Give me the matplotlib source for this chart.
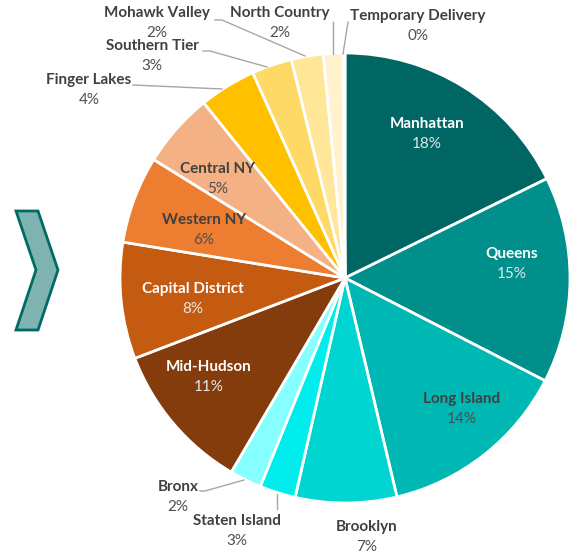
import matplotlib
matplotlib.use("Agg")
import matplotlib.pyplot as plt
from matplotlib.patches import Polygon

# DATA (share of total; clockwise from 12 o'clock)
regions = ["Manhattan", "Queens", "Long Island", "Brooklyn", "Staten Island",
           "Bronx", "Mid-Hudson", "Capital District", "Western NY", "Central NY",
           "Finger Lakes", "Southern Tier", "Mohawk Valley", "North Country",
           "Temporary Delivery"]
shares = [17.8, 14.9, 13.8, 7.3, 2.6, 2.3, 10.8, 8.4, 6.3, 5.4,
          4.1, 2.9, 2.3, 1.4, 0.15]
pct_labels = ["18%", "15%", "14%", "7%", "3%", "2%", "11%", "8%", "6%", "5%",
              "4%", "3%", "2%", "2%", "0%"]

colors = ["#006664", "#008F8A", "#00B8B3", "#00D5D2", "#00EDEE", "#85FFFF",
          "#843C0C", "#C55A11", "#ED7D31", "#F4B183",
          "#FFC000", "#FFD966", "#FFE699", "#FFF2CC", "#FFF8E5"]

# LAYOUT (pixel coords, y down): label centre, text colours, leader line
label_pos = {
    "Manhattan": (427, 124), "Queens": (512, 254), "Long Island": (462, 399),
    "Brooklyn": (367, 527), "Staten Island": (237, 521), "Bronx": (178, 487),
    "Mid-Hudson": (209, 367), "Capital District": (193, 289),
    "Western NY": (204, 220), "Central NY": (218, 169),
    "Finger Lakes": (89, 80), "Southern Tier": (152, 46),
    "Mohawk Valley": (157, 13), "North Country": (280, 13),
    "Temporary Delivery": (418, 16),
}
white_text = {"Manhattan", "Queens", "Mid-Hudson", "Capital District"}
leaders = {
    "Bronx": [(200, 491), (205, 491), (244, 480)],
    "Staten Island": [(277, 494), (277, 509)],
    "Finger Lakes": [(133, 85), (222, 89)],
    "Southern Tier": [(203, 51), (210, 51), (267, 67)],
    "Mohawk Valley": [(215, 20), (222, 20), (305, 56)],
    "North Country": [(333, 22), (333, 54)],
    "Temporary Delivery": [(348, 22), (343, 54)],
}

# PLOT
plt.rcParams['font.family'] = ['Lato', 'DejaVu Sans']
fig = plt.figure(figsize=(5.71, 5.56), dpi=100)
ax = fig.add_axes([0, 0, 1, 1])
ax.set_xlim(0, 571)
ax.set_ylim(556, 0)
ax.set_aspect('equal')
ax.axis('off')

# y axis is flipped, so counterclockwise in data = clockwise on screen
ax.pie(shares, colors=colors, startangle=-90, counterclock=True,
       center=(345, 278), radius=225,
       wedgeprops=dict(edgecolor='white', linewidth=2))
ax.set_xlim(0, 571)
ax.set_ylim(556, 0)

for name, pct in zip(regions, pct_labels):
    x, y = label_pos[name]
    if name in white_text:
        c1, c2 = 'white', '#E6E6E6'
    else:
        c1, c2 = '#404040', '#4F4F4F'
    ax.text(x, y, name, ha='center', va='center', fontsize=11,
            fontweight='bold', color=c1)
    ax.text(x, y + 20, pct, ha='center', va='center', fontsize=11,
            color=c2)

for name, pts in leaders.items():
    xs = [p[0] for p in pts]
    ys = [p[1] for p in pts]
    ax.plot(xs, ys, color='#A6A6A6', linewidth=1)

# chevron on the left
chevron = Polygon([(16, 211), (38, 211), (58, 270), (38, 330), (16, 330), (36, 270)],
                  closed=True, facecolor='#7FB3B1', edgecolor='#006B66', linewidth=2)
ax.add_patch(chevron)

fig.savefig('out.png', dpi=100)
